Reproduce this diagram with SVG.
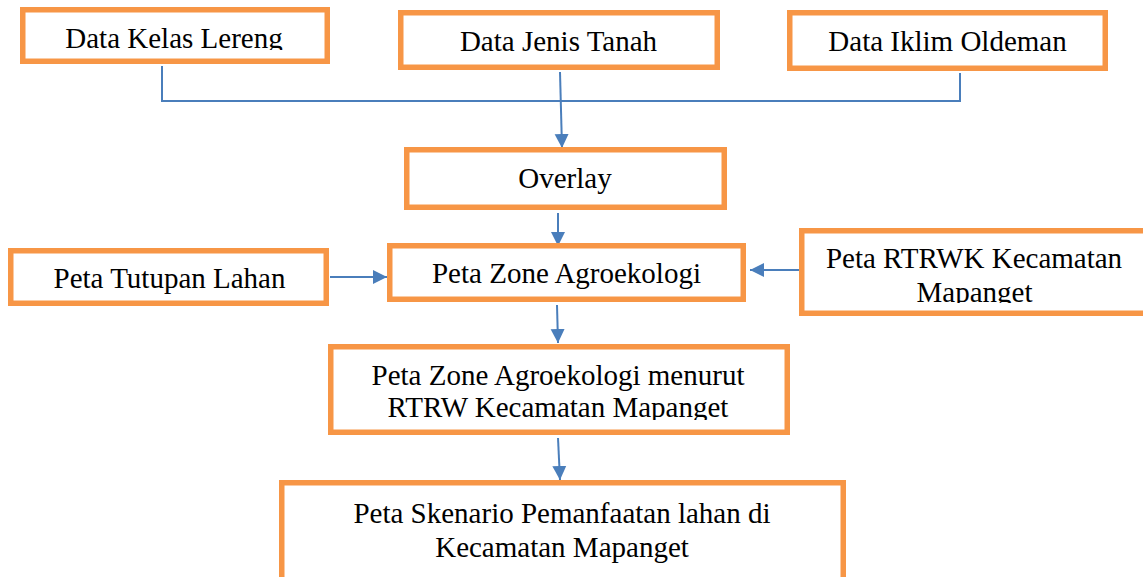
<svg xmlns="http://www.w3.org/2000/svg" width="1143" height="577" viewBox="0 0 1143 577">
<style>
.box{fill:#fff;stroke:#F79646;stroke-width:5.5}
.t{font-family:"Liberation Serif","Times New Roman",serif;font-size:29px;fill:#000;text-anchor:middle}
.c{stroke:#4A7EBB;stroke-width:2;fill:none}
</style>
<defs>
<marker id="ah" viewBox="0 0 10 10" refX="10" refY="5" markerWidth="14" markerHeight="15" markerUnits="userSpaceOnUse" orient="auto">
<path d="M0,0 L10,5 L0,10 z" fill="#4A7EBB"/>
</marker>
<clipPath id="clip1"><rect x="20" y="0" width="310" height="50"/></clipPath>
<clipPath id="clipR"><rect x="799" y="228" width="344" height="75"/></clipPath>
<clipPath id="clipM"><rect x="328" y="344" width="462" height="76"/></clipPath>
</defs>
<rect width="1143" height="577" fill="#fff"/>
<g id="connectors">
<polyline class="c" points="162,66 162,101 960,101 960,73"/>
<line class="c" x1="560" y1="72" x2="562" y2="148" marker-end="url(#ah)"/>
<line class="c" x1="558" y1="213" x2="558" y2="246" marker-end="url(#ah)"/>
<line class="c" x1="330" y1="277" x2="387" y2="277" marker-end="url(#ah)"/>
<line class="c" x1="799" y1="270" x2="750" y2="270" marker-end="url(#ah)"/>
<line class="c" x1="557" y1="305" x2="558" y2="343" marker-end="url(#ah)"/>
<line class="c" x1="558" y1="438" x2="560" y2="480" marker-end="url(#ah)"/>
</g>
<g id="n-kelas-lereng">
<rect class="box" x="22.75" y="9.75" width="304.5" height="51.5"/>
<text class="t" x="174" y="48" clip-path="url(#clip1)">Data Kelas Lereng</text>
</g>
<g id="n-jenis-tanah">
<rect class="box" x="400.75" y="12.75" width="316.5" height="54.5"/>
<text class="t" x="558.5" y="51">Data Jenis Tanah</text>
</g>
<g id="n-iklim">
<rect class="box" x="789.75" y="12.75" width="315.5" height="55.5"/>
<text class="t" x="947.5" y="51">Data Iklim Oldeman</text>
</g>
<g id="n-overlay">
<rect class="box" x="406.75" y="149.75" width="317.5" height="57.5"/>
<text class="t" x="565" y="188">Overlay</text>
</g>
<g id="n-tutupan">
<rect class="box" x="10.75" y="250.75" width="315.5" height="52.5"/>
<text class="t" x="169.5" y="288">Peta Tutupan Lahan</text>
</g>
<g id="n-zone">
<rect class="box" x="389.75" y="245.75" width="353.5" height="53.5"/>
<text class="t" x="566.5" y="283">Peta Zone Agroekologi</text>
</g>
<g id="n-rtrwk">
<rect class="box" x="801.75" y="230.75" width="350" height="82.5"/>
<text class="t" x="974" y="268">Peta RTRWK Kecamatan</text>
<text class="t" x="974.5" y="302" clip-path="url(#clipR)">Mapanget</text>
</g>
<g id="n-menurut">
<rect class="box" x="330.75" y="346.75" width="456.5" height="85.5"/>
<text class="t" x="558" y="385">Peta Zone Agroekologi menurut</text>
<text class="t" x="558" y="417" clip-path="url(#clipM)">RTRW Kecamatan Mapanget</text>
</g>
<g id="n-skenario">
<rect class="box" x="281.75" y="482.75" width="561.5" height="110"/>
<text class="t" x="562" y="523">Peta Skenario Pemanfaatan lahan di</text>
<text class="t" x="562" y="557">Kecamatan Mapanget</text>
</g>
</svg>
